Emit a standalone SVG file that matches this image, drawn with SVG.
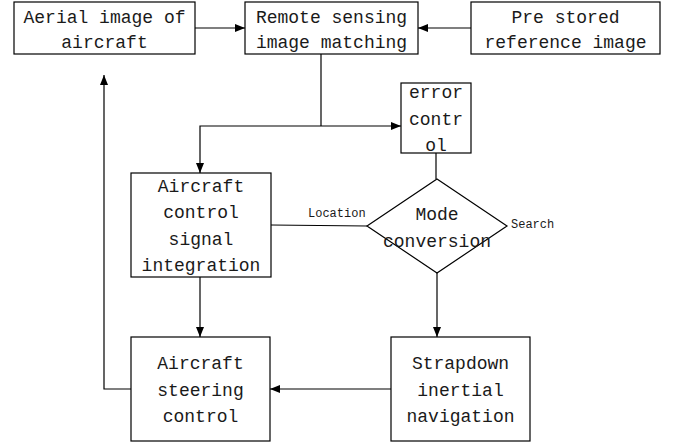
<svg xmlns="http://www.w3.org/2000/svg" width="680" height="444" viewBox="0 0 680 444">
<defs>
<marker id="ah" viewBox="0 0 10 8" refX="10" refY="4" markerWidth="10" markerHeight="8" markerUnits="userSpaceOnUse" orient="auto">
<path d="M0,0 L10,4 L0,8 Z" fill="#000"/>
</marker>
<style>
.box{fill:#fff;stroke:#000;stroke-width:1.2}
.t{font-family:"Liberation Mono","DejaVu Sans Mono",monospace;font-size:18px;fill:#1a1a1a;text-anchor:middle}
.s{font-family:"Liberation Mono","DejaVu Sans Mono",monospace;font-size:12px;fill:#1a1a1a}
.c{fill:none;stroke:#000;stroke-width:1.2}
</style>
</defs>
<rect width="680" height="444" fill="#fff"/>
<g id="connectors">
<line class="c" x1="195" y1="28" x2="245" y2="28" marker-end="url(#ah)"/>
<line class="c" x1="471" y1="28" x2="418" y2="28" marker-end="url(#ah)"/>
<line class="c" x1="321" y1="54" x2="321" y2="126"/>
<line class="c" x1="321" y1="126" x2="401" y2="126" marker-end="url(#ah)"/>
<polyline class="c" points="321,126 200,126 200,173" marker-end="url(#ah)"/>
<line class="c" x1="436" y1="153" x2="436" y2="179"/>
<line class="c" x1="271" y1="225" x2="367" y2="226"/>
<line class="c" x1="200" y1="277" x2="200" y2="337" marker-end="url(#ah)"/>
<line class="c" x1="437" y1="273" x2="437" y2="337" marker-end="url(#ah)"/>
<line class="c" x1="391" y1="389" x2="270" y2="389" marker-end="url(#ah)"/>
<polyline class="c" points="131,389 104,389 104,75" marker-end="url(#ah)"/>
<text class="s" x="308" y="217">Location</text>
<text class="s" x="511" y="228">Search</text>
</g>
<g id="aerial">
<rect class="box" x="14" y="2" width="181" height="52"/>
<text class="t" x="104.5" y="23">Aerial image of</text>
<text class="t" x="104.5" y="48">aircraft</text>
</g>
<g id="matching">
<rect class="box" x="245" y="2" width="173" height="52"/>
<text class="t" x="331.5" y="23">Remote sensing</text>
<text class="t" x="331.5" y="48">image matching</text>
</g>
<g id="prestored">
<rect class="box" x="471" y="2" width="189" height="52"/>
<text class="t" x="565.5" y="23">Pre stored</text>
<text class="t" x="565.5" y="48">reference image</text>
</g>
<g id="error">
<rect class="box" x="401" y="83" width="70" height="70"/>
<text class="t" x="436" y="98">error</text>
<text class="t" x="436" y="125">contr</text>
<text class="t" x="436" y="151">ol</text>
</g>
<g id="integration">
<rect class="box" x="131" y="173" width="140" height="104"/>
<text class="t" x="201" y="192">Aircraft</text>
<text class="t" x="201" y="218">control</text>
<text class="t" x="201" y="245">signal</text>
<text class="t" x="201" y="271">integration</text>
</g>
<g id="mode">
<polygon points="437,179 507,226 437,273 367,226" fill="#fff" stroke="#000" stroke-width="1.2"/>
<text class="t" x="437" y="220">Mode</text>
<text class="t" x="437" y="247">conversion</text>
</g>
<g id="steering">
<rect class="box" x="131" y="337" width="139" height="104"/>
<text class="t" x="200.5" y="369">Aircraft</text>
<text class="t" x="200.5" y="396">steering</text>
<text class="t" x="200.5" y="422">control</text>
</g>
<g id="strapdown">
<rect class="box" x="391" y="337" width="139" height="104"/>
<text class="t" x="460.5" y="369">Strapdown</text>
<text class="t" x="460.5" y="396">inertial</text>
<text class="t" x="460.5" y="422">navigation</text>
</g>
</svg>
